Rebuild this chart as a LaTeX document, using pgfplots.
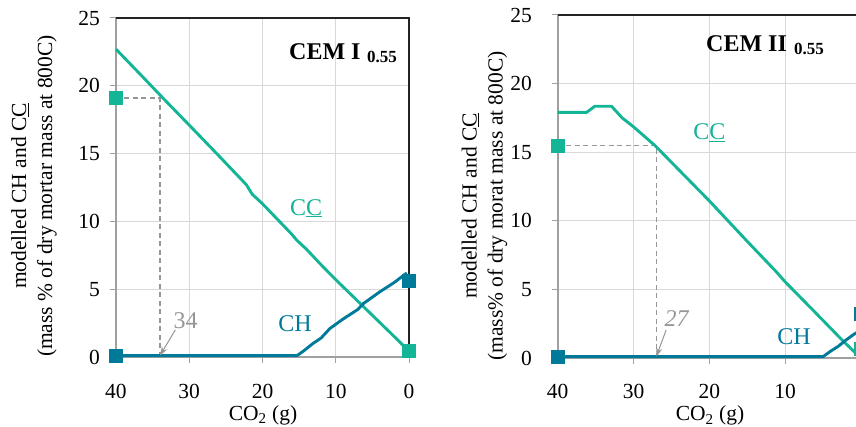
\documentclass[border=0pt]{standalone}
\usepackage{pgfplots}
\pgfplotsset{compat=1.18}
\usepackage{fontspec}
\setmainfont{Liberation Serif}
\usetikzlibrary{arrows.meta}

\definecolor{ccteal}{RGB}{20,180,150}
\definecolor{chblue}{RGB}{0,122,153}
\definecolor{gridgray}{RGB}{217,217,217}
\definecolor{spinegray}{RGB}{160,160,160}
\definecolor{annogray}{RGB}{150,150,150}
\definecolor{frameblack}{RGB}{35,35,35}

\newcommand{\bodyfont}{\fontsize{21.5}{26}\selectfont}
\newcommand{\curvefont}{\fontsize{24}{28}\selectfont}
\newcommand{\titlefont}{\fontsize{24}{28}\selectfont\bfseries}
\newcommand{\subfont}{\fontsize{17}{20}\selectfont\bfseries}

\tikzset{
  guide/.style={draw=annogray, line width=1.2pt, dash pattern=on 5pt off 3.5pt},
  pointer/.style={draw=annogray, line width=1pt, -{Stealth[length=9pt,width=6pt]}},
}

\pgfplotsset{
  panel/.style={
    scale only axis, anchor=south west,
    x dir=reverse, xmin=0, xmax=40, ymin=0, ymax=25,
    xtick={0,10,20,30,40}, ytick={0,5,10,15,20,25},
    grid=major, major grid style={draw=gridgray, line width=1pt},
    axis line style={draw=none},
    tick align=outside, major tick length=6pt,
    tick style={draw=spinegray, line width=1pt},
    xtick pos=bottom, ytick pos=left, yticklabel pos=left,
    ticklabel style={font=\bodyfont, text=black},
    xticklabel style={anchor=base, inner sep=0pt, yshift=-35.5pt},
    /pgf/number format/assume math mode=true,
    clip=false,
  },
  ccline/.style={draw=ccteal, line width=2.9pt, line join=round, no marks},
  chline/.style={draw=chblue, line width=2.9pt, line join=round, no marks},
  ccmark/.style={only marks, mark=square*, mark size=6.5pt,
    mark options={draw=ccteal, fill=ccteal, line width=0.3pt}},
  chmark/.style={only marks, mark=square*, mark size=6.5pt,
    mark options={draw=chblue, fill=chblue, line width=0.3pt}},
}

\begin{document}
\begin{tikzpicture}
\useasboundingbox (0pt,0pt) rectangle (856pt,427pt);
\clip (0pt,0pt) rectangle (856pt,427pt);

% ---------------- CEM I 0.55 ----------------
\begin{axis}[panel, at={(116pt,70pt)}, width=293pt, height=339pt,
  yticklabel style={anchor=east, inner sep=0pt, xshift=-10pt}]
  \draw[spinegray, line width=1.8pt] (axis cs:40,25) -- (axis cs:40,0) -- (axis cs:0,0);
  \draw[frameblack, line width=1.3pt] (axis cs:40,25) -- (axis cs:0,25) -- (axis cs:0,0);
  \draw[guide] (axis cs:40,19.1) -- (axis cs:34,19.1) -- (axis cs:34,0);
  \addplot[ccline] coordinates {
    (40,22.7) (36,20.46) (33.6,19.1) (30,17.1) (26,14.86) (22.2,12.7)
    (21.4,12.0) (20,11.3) (16,9.05) (15.3,8.6) (14,7.95) (12,6.8) (10,5.7)
    (6,3.6) (2,1.5) (0.5,0.7)};
  \addplot[chline] coordinates {
    (40,0.1) (15.3,0.1) (14.5,0.4) (13.1,1.0) (12,1.4) (10.8,2.1) (9,2.8)
    (7,3.5) (6.2,3.95) (4,4.8) (2,5.5) (0.3,6.2)};
  \draw[pointer] (axis cs:31.9,2.0) -- (axis cs:34,0.1);
  \addplot[ccmark] coordinates {(40,19.1) (0,0.5)};
  \addplot[chmark] coordinates {(40,0.1) (0,5.6)};
  \node[anchor=base, font=\curvefont, text=ccteal] at (axis cs:14.05,10.47) {C\underline{C}};
  \node[anchor=base, font=\curvefont, text=chblue] at (axis cs:15.55,1.87) {CH};
  \node[anchor=base, font=\curvefont, text=annogray] at (axis cs:30.5,2.1) {34};
\end{axis}

% ---------------- CEM II 0.55 ----------------
% the x = 0 end of this panel runs past the right edge of the figure
\begin{axis}[panel, at={(557.7pt,69pt)}, width=303.3pt, height=343pt,
  xtick={0,10,20,30,40}, xticklabels={,10,20,30,40},
  yticklabel style={anchor=east, inner sep=0pt, xshift=-19.7pt},
  xticklabel style={yshift=0.5pt}]
  \draw[spinegray, line width=1.8pt] (axis cs:40,25) -- (axis cs:40,0) -- (axis cs:0,0);
  \draw[frameblack, line width=1.3pt] (axis cs:40,25) -- (axis cs:0,25) -- (axis cs:0,0);
  \draw[guide] (axis cs:40,15.5) -- (axis cs:27,15.5) -- (axis cs:27,0);
  \addplot[ccline] coordinates {
    (40,17.9) (36.2,17.9) (35.1,18.35) (32.9,18.35) (31.5,17.5) (30,16.85)
    (27.2,15.5) (20,11.45) (15,8.5) (11.2,6.3) (10,5.55) (6,3.3) (2.3,1.2)
    (0.4,0.2)};
  \addplot[chline] coordinates {
    (40,0.1) (5.0,0.1) (4,0.5) (3,0.85) (2,1.3) (1,1.7) (0,2.05)};
  \draw[pointer] (axis cs:25.7,2.04) -- (axis cs:27,0.1);
  \addplot[ccmark] coordinates {(40,15.5) (0,0.7)};
  \addplot[chmark] coordinates {(40,0.1) (0,3.2)};
  \node[anchor=base, font=\curvefont, text=ccteal] at (axis cs:20.0,15.94) {C\underline{C}};
  \node[anchor=base, font=\curvefont, text=chblue] at (axis cs:8.84,0.95) {CH};
  \node[anchor=base, font=\curvefont\itshape, text=annogray] at (axis cs:24.3,2.26) {27};
\end{axis}

% panel titles
\node[anchor=base west, font=\titlefont, inner sep=0pt] at (289pt,367pt) {CEM I};
\node[anchor=base west, font=\subfont, inner sep=0pt] at (367pt,364pt) {0.55};
\node[anchor=base west, font=\titlefont, inner sep=0pt] at (706pt,375pt) {CEM II};
\node[anchor=base west, font=\subfont, inner sep=0pt] at (794pt,372pt) {0.55};

% axis titles
\node[rotate=90, align=center, font=\bodyfont, inner sep=0pt] at (34pt,231pt)
  {modelled CH and C\underline{C}\\(mass \% of dry mortar mass at 800C)};
\node[rotate=90, align=center, font=\bodyfont, inner sep=0pt] at (484.5pt,221pt)
  {modelled CH and C\underline{C}\\(mass\% of dry morat mass at 800C)};
\node[anchor=base, font=\bodyfont, inner sep=0pt] at (263pt,6.5pt) {CO\textsubscript{2} (g)};
\node[anchor=base, font=\bodyfont, inner sep=0pt] at (710pt,6pt) {CO\textsubscript{2} (g)};
\end{tikzpicture}
\end{document}
